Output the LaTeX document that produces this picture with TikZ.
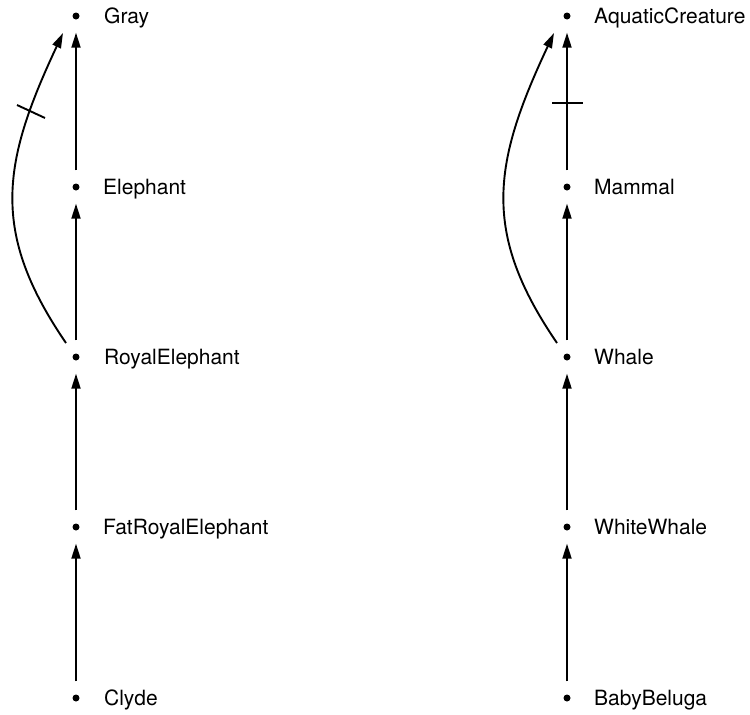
\documentclass[tikz,border=0pt]{standalone}
\usepackage{fontspec}
\setmainfont{TeX Gyre Heros}
\usetikzlibrary{arrows.meta,calc}
\tikzset{
  dotnode/.style={circle,fill=black,inner sep=0pt,minimum size=7pt},
  lbl/.style={anchor=base west,inner sep=0pt,font=\fontsize{21}{25}\selectfont},
  isa/.style={line width=1.9pt,-{Triangle[length=15pt,width=9pt]},shorten <=13pt,shorten >=13pt},
  curv/.style={line width=1.9pt,-{Triangle[length=15pt,width=9pt]}},
  tick/.style={line width=1.9pt}
}
\begin{document}
\begin{tikzpicture}[x=1pt,y=-1pt]
\useasboundingbox (0,0) rectangle (750,715);
% left column
\node[dotnode] (gray) at (76,16) {};
\node[dotnode] (eleph) at (76,187) {};
\node[dotnode] (royal) at (76,357) {};
\node[dotnode] (fat) at (76,527) {};
\node[dotnode] (clyde) at (76,698) {};
\node[lbl] (lgray) at ($(gray)+(28,7.5)$) {Gray};
\node[lbl] (leleph) at ($(eleph)+(27,7.5)$) {Elephant};
\node[lbl] (lroyal) at ($(royal)+(28,7.5)$) {RoyalElephant};
\node[lbl] (lfat) at ($(fat)+(27,7.5)$) {FatRoyalElephant};
\node[lbl] (lclyde) at ($(clyde)+(28,7.5)$) {Clyde};
\draw[isa] (eleph) -- (gray);
\draw[isa] (royal) -- (eleph);
\draw[isa] (fat) -- (royal);
\draw[isa] (clyde) -- (fat);
\draw[curv] ($(royal)+(-10,-14)$) .. controls ($(royal)+(-86,-125)$) and ($(gray)+(-74,147)$) .. ($(gray)+(-13,17)$);
\draw[tick] ($(gray)+(-59,89)$) -- ($(gray)+(-31,102)$);
% right column
\node[dotnode] (aqua) at (567,16) {};
\node[dotnode] (mammal) at (567,187) {};
\node[dotnode] (whale) at (567,357) {};
\node[dotnode] (white) at (567,527) {};
\node[dotnode] (baby) at (567,698) {};
\node[lbl] (laqua) at ($(aqua)+(27,7.5)$) {AquaticCreature};
\node[lbl] (lmammal) at ($(mammal)+(27,7.5)$) {Mammal};
\node[lbl] (lwhale) at ($(whale)+(27,7.5)$) {Whale};
\node[lbl] (lwhite) at ($(white)+(27,7.5)$) {WhiteWhale};
\node[lbl] (lbaby) at ($(baby)+(27,7.5)$) {BabyBeluga};
\draw[isa] (mammal) -- (aqua);
\draw[isa] (whale) -- (mammal);
\draw[isa] (white) -- (whale);
\draw[isa] (baby) -- (white);
\draw[curv] ($(whale)+(-10,-14)$) .. controls ($(whale)+(-86,-125)$) and ($(aqua)+(-74,147)$) .. ($(aqua)+(-13,17)$);
\draw[tick] ($(aqua)+(-15,87)$) -- ($(aqua)+(16,87)$);
\end{tikzpicture}
\end{document}
